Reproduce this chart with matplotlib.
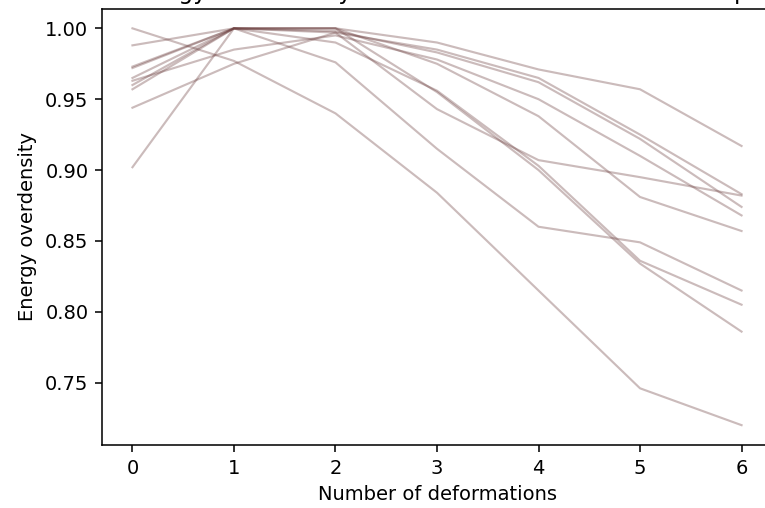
import numpy as np
import matplotlib
matplotlib.use('Agg')
import matplotlib.pyplot as plt

# number of deformations applied
deformations = [0, 1, 2, 3, 4, 5, 6]

# energy overdensity of each sample after each deformation
sample_1 = [1.000, 0.977, 0.940, 0.884, 0.815, 0.746, 0.720]
sample_2 = [0.957, 1.000, 0.976, 0.915, 0.860, 0.849, 0.815]
sample_3 = [0.973, 1.000, 0.990, 0.956, 0.903, 0.836, 0.805]
sample_4 = [0.972, 1.000, 1.000, 0.955, 0.900, 0.834, 0.786]
sample_5 = [0.960, 1.000, 0.997, 0.943, 0.907, 0.895, 0.882]
sample_6 = [0.965, 1.000, 1.000, 0.975, 0.938, 0.881, 0.857]
sample_7 = [0.988, 1.000, 1.000, 0.990, 0.971, 0.957, 0.917]
sample_8 = [0.944, 0.975, 0.997, 0.985, 0.965, 0.925, 0.883]
sample_9 = [0.902, 1.000, 0.998, 0.983, 0.962, 0.922, 0.874]
sample_10 = [0.963, 0.985, 0.995, 0.978, 0.950, 0.910, 0.868]

samples = [sample_1, sample_2, sample_3, sample_4, sample_5,
           sample_6, sample_7, sample_8, sample_9, sample_10]

dpi = 140
fig = plt.figure(figsize=(765 / dpi, 508 / dpi), dpi=dpi)
# axes runs a little past the right edge, like the cropped original
ax = fig.add_axes([102 / 765, 63 / 508, 670 / 765, 436.5 / 508])

for values in samples:
    ax.plot(deformations, values, color=(0.42, 0.24, 0.24), alpha=0.35, linewidth=1.1)

ax.set_xlabel('Number of deformations')
ax.set_ylabel('Energy overdensity')
# title sits mostly above the picture, only the descenders show
ax.set_title('Energy overdensity as a function of deformation step', pad=5)

plt.savefig('out.png', dpi=dpi)
